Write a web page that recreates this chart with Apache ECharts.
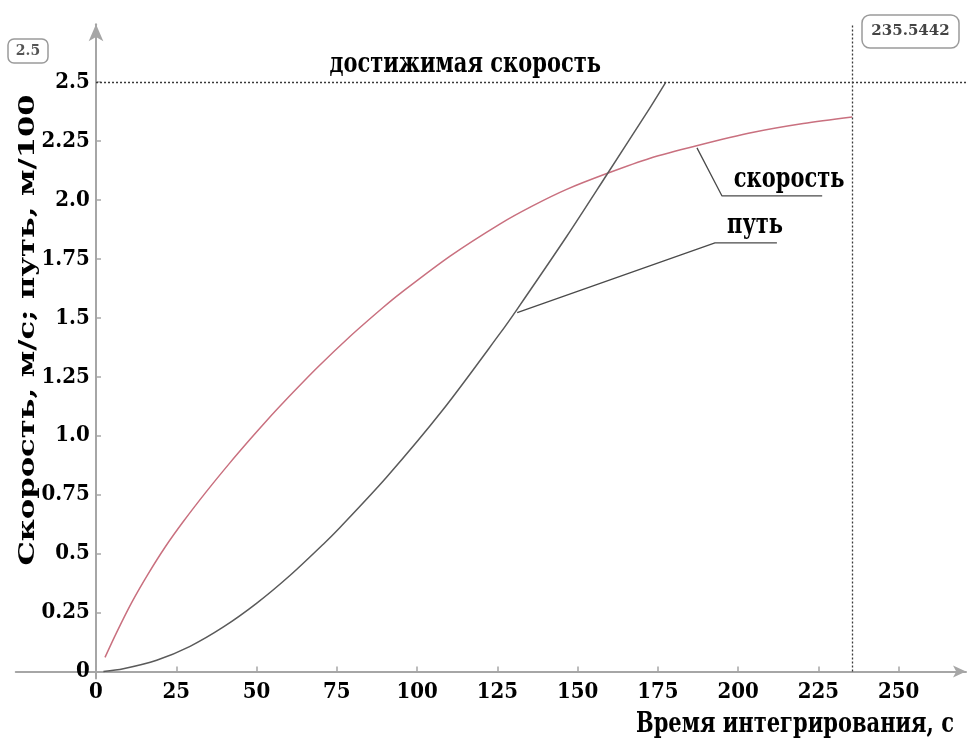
<!DOCTYPE html>
<html>
<head>
<meta charset="utf-8">
<title>Скорость и путь</title>
<script src="https://cdn.jsdelivr.net/npm/echarts@6/dist/echarts.min.js"></script>
<style>
  html, body { margin: 0; padding: 0; background: #fff; }
  #chart { width: 971px; height: 738px; }
</style>
</head>
<body>
<div id="chart"></div>
<script>
// Time, s — velocity samples
const velTime = [2.8, 6.4, 11.1, 16.3, 21.5, 27.2, 34.5, 41.7, 48.0, 53.2, 58.3, 68.8, 79.1, 89.5, 94.7, 110.3, 125.9, 136.0, 146.6, 159.1, 172.6, 187.1, 204.8, 220.3, 235.5442];
// Velocity, m/s
const velValues = [0.06, 0.165, 0.292, 0.415, 0.527, 0.636, 0.765, 0.885, 0.985, 1.065, 1.14, 1.287, 1.421, 1.545, 1.603, 1.762, 1.899, 1.975, 2.045, 2.112, 2.177, 2.23, 2.287, 2.324, 2.352];

// Time, s — distance samples
const pathTime = [2.3, 8.5, 18.9, 29.3, 39.7, 50.1, 60.4, 70.8, 76.0, 90.5, 108.0, 125.9, 131.0, 146.6, 159.1, 172.6, 177.5];
// Distance, m/100
const pathValues = [0, 0.012, 0.048, 0.107, 0.189, 0.29, 0.407, 0.54, 0.611, 0.824, 1.109, 1.435, 1.533, 1.845, 2.107, 2.392, 2.5];

// Axis ticks
const xTicks = [0, 25, 50, 75, 100, 125, 150, 175, 200, 225, 250];
const yTicks = [0, 0.25, 0.5, 0.75, 1.0, 1.25, 1.5, 1.75, 2.0, 2.25, 2.5];
const yTickLabels = ['0', '0.25', '0.5', '0.75', '1.0', '1.25', '1.5', '1.75', '2.0', '2.25', '2.5'];

// Reference levels
const reachableSpeed = 2.5;
const integrationEnd = 235.5442;

// Annotation anchors (data coordinates)
const speedLeader = [[187.2, 2.221], [195.0, 2.017], [226.2, 2.017]];
const pathLeader = [[131.2, 1.522], [192.8, 1.818], [212.1, 1.818]];
const noteNames = ['достижимая скорость', 'скорость', 'путь'];
const notePoints = [[115.0, 2.574], [215.9, 2.085], [205.3, 1.89]];

const X_MIN = -25, X_MAX = 271, Y_MIN = -0.03, Y_MAX = 2.745;
const GRID = { left: 15.75, right: 5, top: 24.3, bottom: 59.4 };
const FONT = '"DejaVu Serif", "Liberation Serif", serif';
const TICK_FONT = '"DejaVu Serif Condensed", "DejaVu Serif", serif';
const AXIS_GRAY = '#a6a6a6';
const TEXT_STRETCH = 1.3;   // glyphs are drawn taller than wide

const zip = (xs, ys) => xs.map((x, i) => [x, ys[i]]);

const chart = echarts.init(document.getElementById('chart'), null, { renderer: 'canvas' });

chart.setOption({
  animation: false,
  backgroundColor: '#ffffff',
  grid: Object.assign({ containLabel: false, outerBoundsMode: 'none' }, GRID),
  xAxis: {
    type: 'value',
    min: X_MIN, max: X_MAX,
    axisLine: {
      onZero: true,
      symbol: ['none', 'arrow'],
      symbolSize: [9, 13],
      lineStyle: { color: AXIS_GRAY, width: 2 }
    },
    axisTick: {
      customValues: xTicks,
      inside: true, length: 5,
      lineStyle: { color: AXIS_GRAY, width: 1.5 }
    },
    axisLabel: {
      customValues: xTicks,
      margin: 3,
      color: '#000',
      fontFamily: TICK_FONT, fontWeight: 'bold', fontSize: 22
    },
    splitLine: { show: false }
  },
  yAxis: {
    type: 'value',
    min: Y_MIN, max: Y_MAX,
    axisLine: {
      onZero: true,
      symbol: ['none', 'arrow'],
      symbolSize: [11, 17],
      lineStyle: { color: AXIS_GRAY, width: 2 }
    },
    axisTick: {
      customValues: yTicks,
      inside: true, length: 5,
      lineStyle: { color: AXIS_GRAY, width: 1.5 }
    },
    axisLabel: {
      customValues: yTicks,
      // labels are anchored to the grid edge; pull them over to the zero line
      margin: -74,
      color: '#000',
      fontFamily: TICK_FONT, fontWeight: 'bold', fontSize: 22,
      formatter: (v) => {
        const i = yTicks.findIndex(t => Math.abs(t - v) < 1e-9);
        return i >= 0 ? yTickLabels[i] : '';
      }
    },
    splitLine: { show: false }
  },
  series: [
    {
      name: 'скорость',
      type: 'line',
      data: zip(velTime, velValues),
      smooth: 0.3,
      symbol: 'none',
      silent: true,
      lineStyle: { color: '#c9707f', width: 1.5 },
      z: 3,
      markLine: {
        silent: true,
        symbol: 'none',
        label: { show: false },
        lineStyle: { type: [2, 2], color: '#3a3a3a', width: 1.3 },
        data: [
          [{ coord: [0, reachableSpeed] }, { coord: [X_MAX, reachableSpeed] }],
          [{ coord: [integrationEnd, 0] }, { coord: [integrationEnd, Y_MAX] }]
        ]
      }
    },
    {
      name: 'путь',
      type: 'line',
      data: zip(pathTime, pathValues),
      smooth: 0.3,
      symbol: 'none',
      silent: true,
      lineStyle: { color: '#5a5a5a', width: 1.5 },
      z: 3
    },
    {
      name: 'leader-speed',
      type: 'line',
      data: speedLeader,
      symbol: 'none',
      silent: true,
      lineStyle: { color: '#4a4a4a', width: 1.3 },
      z: 2
    },
    {
      name: 'leader-path',
      type: 'line',
      data: pathLeader,
      symbol: 'none',
      silent: true,
      lineStyle: { color: '#4a4a4a', width: 1.3 },
      z: 2
    }
  ]
});

// Text elements: placed from data coordinates where they belong to the plot
const textStyle = (text, font, align) => ({
  text: text, font: font, fill: '#000',
  align: align, verticalAlign: 'middle',
  textAlign: align, textVerticalAlign: 'middle'
});

const graphics = [];

noteNames.forEach((name, i) => {
  const p = chart.convertToPixel({ xAxisIndex: 0, yAxisIndex: 0 }, notePoints[i]);
  graphics.push({
    type: 'text', x: p[0], y: p[1], scaleY: TEXT_STRETCH, z: 10,
    style: textStyle(name, 'bold 21px ' + FONT, 'center')
  });
});

// y-axis title (stretched along its reading direction)
graphics.push({
  type: 'text', x: 28, y: 330,
  rotation: Math.PI / 2, scaleX: 1.33,
  style: textStyle('Скорость, м/с; путь, м/100', 'bold 23px ' + FONT, 'center')
});

// x-axis title
graphics.push({
  type: 'text', x: 954, y: 725, scaleY: TEXT_STRETCH,
  style: textStyle('Время интегрирования, с', 'bold 21px ' + FONT, 'right')
});

// value badge for the reachable speed level
graphics.push({
  type: 'group', x: 8, y: 39,
  children: [
    { type: 'rect', shape: { x: 0, y: 0, width: 40, height: 24, r: 6 },
      style: { fill: '#fff', stroke: '#9a9a9a', lineWidth: 1.5 } },
    { type: 'text', x: 20, y: 12,
      style: Object.assign(textStyle(String(reachableSpeed), 'bold 14px ' + FONT, 'center'), { fill: '#555' }) }
  ]
});

// value badge for the integration end time
graphics.push({
  type: 'group', x: 862, y: 15,
  children: [
    { type: 'rect', shape: { x: 0, y: 0, width: 97, height: 33, r: 8 },
      style: { fill: '#fff', stroke: '#9a9a9a', lineWidth: 1.5 } },
    { type: 'text', x: 48.5, y: 16.5,
      style: Object.assign(textStyle(String(integrationEnd), 'bold 15px ' + FONT, 'center'), { fill: '#444' }) }
  ]
});

chart.setOption({ graphic: graphics });
</script>
</body>
</html>
